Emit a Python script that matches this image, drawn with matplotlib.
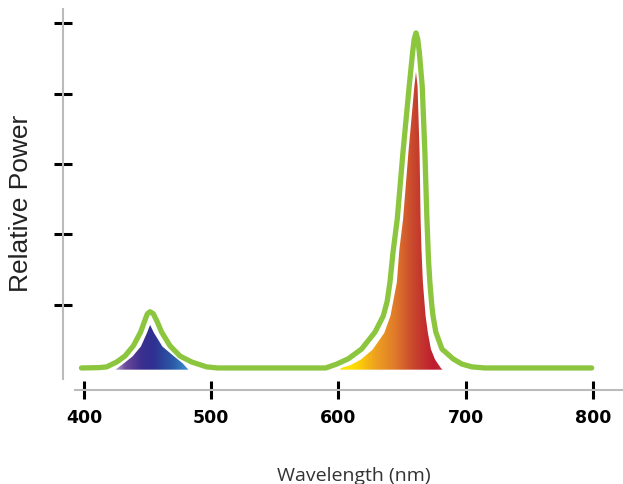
import numpy as np
import matplotlib
matplotlib.use("Agg")
import matplotlib.pyplot as plt
from matplotlib.colors import LinearSegmentedColormap
from matplotlib.patches import Polygon

# measured outline (green line), wavelength in nm vs relative power
line_nm = [398, 412, 417.8, 425.7, 432.2, 438.8, 444.5, 447.4, 449.8, 451.9,
           454.5, 457.6, 461, 467.6, 475.4, 484.6, 496.4, 505, 590, 598.6,
           607.7, 618.2, 628.7, 635.2, 638.3, 640.5, 642.9, 646.2, 650.7, 655.6,
           658.3, 659.5, 660.9, 662.3, 663.5, 665.8, 667.9, 669.5, 670.7, 671.8,
           673.3, 674.3, 676.5, 681.3, 690, 697, 705, 715, 799]
line_pw = [0.02, 0.021, 0.023, 0.037, 0.054, 0.083, 0.122, 0.151, 0.174, 0.180,
           0.174, 0.151, 0.122, 0.083, 0.054, 0.037, 0.023, 0.02, 0.02, 0.031,
           0.046, 0.074, 0.122, 0.168, 0.21, 0.265, 0.35, 0.444, 0.634, 0.822,
           0.919, 0.955, 0.973, 0.955, 0.919, 0.822, 0.634, 0.444, 0.33, 0.265,
           0.2, 0.168, 0.122, 0.074, 0.046, 0.031, 0.023, 0.02, 0.02]

# inner coloured spectrum, blue peak
blue_nm = [422, 430.9, 437.5, 444, 448.7, 450.5, 451.9, 453.5, 455.8, 462.3,
           471.5, 478, 484]
blue_pw = [0.012, 0.036, 0.055, 0.083, 0.121, 0.138, 0.150, 0.138, 0.121, 0.083,
           0.055, 0.036, 0.012]

# inner coloured spectrum, red peak
red_nm = [600, 601.2, 609, 616.9, 626.1, 635.2, 640, 645, 647, 649.9, 654.1,
          658.8, 660.9, 663, 664.6, 665.4, 666.1, 667.2, 669.3, 671.1, 673.5,
          676.6, 681.1, 684]
red_pw = [0.012, 0.022, 0.031, 0.046, 0.074, 0.121, 0.169, 0.264, 0.358, 0.444,
          0.634, 0.823, 0.89, 0.823, 0.634, 0.444, 0.358, 0.264, 0.169, 0.121,
          0.074, 0.046, 0.022, 0.012]

x_ticks = [400, 500, 600, 700, 800]
y_ticks = [0.2, 0.4, 0.6, 0.8, 1.0]

# wavelength -> colour stops for the gradient
spec_nm = [420, 432, 445, 455, 470, 482, 500, 540, 600, 612, 630, 645, 660, 675, 690]
spec_col = ["#e4e0ee", "#6b4c9a", "#3b2f8e", "#2e3192", "#2b5ba8", "#3d90d0",
            "#40c0c0", "#8dc63f", "#f7e600", "#ffdd00", "#eea020", "#df7a2a",
            "#c8452e", "#be1e2d", "#c03040"]

xmin, xmax = 383.5, 823.6
ymin, ymax = -0.0114, 1.041
stops = [(n - spec_nm[0]) / (spec_nm[-1] - spec_nm[0]) for n in spec_nm]
cmap = LinearSegmentedColormap.from_list("spec", list(zip(stops, spec_col)))

fig = plt.figure(figsize=(6.23, 4.85), dpi=100)
ax = fig.add_axes([63 / 623, 1 - 380 / 485, 560 / 623, 370 / 485])

grad = np.linspace(spec_nm[0], spec_nm[-1], 600).reshape(1, -1)
for nm, pw in [(blue_nm, blue_pw), (red_nm, red_pw)]:
    poly = Polygon(list(zip(nm, pw)), closed=True, facecolor="none",
                   edgecolor="white", lw=1.6, zorder=2)
    ax.add_patch(poly)
    im = ax.imshow(grad, cmap=cmap, extent=[spec_nm[0], spec_nm[-1], ymin, ymax],
                   aspect="auto", zorder=1, interpolation="bilinear")
    im.set_clip_path(poly)

ax.plot(line_nm, line_pw, color="#8cc63f", lw=3.8, solid_joinstyle="round",
        solid_capstyle="round", zorder=3)

ax.set_xlim(xmin, xmax)
ax.set_ylim(ymin, ymax)

for s in ["top", "right"]:
    ax.spines[s].set_visible(False)
for s in ["left", "bottom"]:
    ax.spines[s].set_color("#bbbbbb")
    ax.spines[s].set_linewidth(1.5)
ax.spines["bottom"].set_position(("outward", 11 * 0.72))
ax.spines["bottom"].set_bounds(393, xmax)

ax.set_xticks(x_ticks)
ax.set_yticks(y_ticks)
ax.set_yticklabels([])
ax.tick_params(axis="y", direction="inout", length=13, width=2.2, color="black")
ax.tick_params(axis="x", direction="inout", length=12.5, width=2.2, color="black",
               pad=6.5, labelsize=12.5)
for lab in ax.get_xticklabels():
    lab.set_fontweight("bold")

fig.text(354 / 623, 1 - 481 / 485, "Wavelength (nm)", ha="center", va="baseline",
         fontsize=14, color="#333333", family="Open Sans")
fig.text(21 / 623, 1 - 203 / 485, "Relative Power", ha="center", va="center",
         rotation=90, fontsize=19, color="#222222", family="Liberation Sans")

fig.savefig("out.png", dpi=100)
